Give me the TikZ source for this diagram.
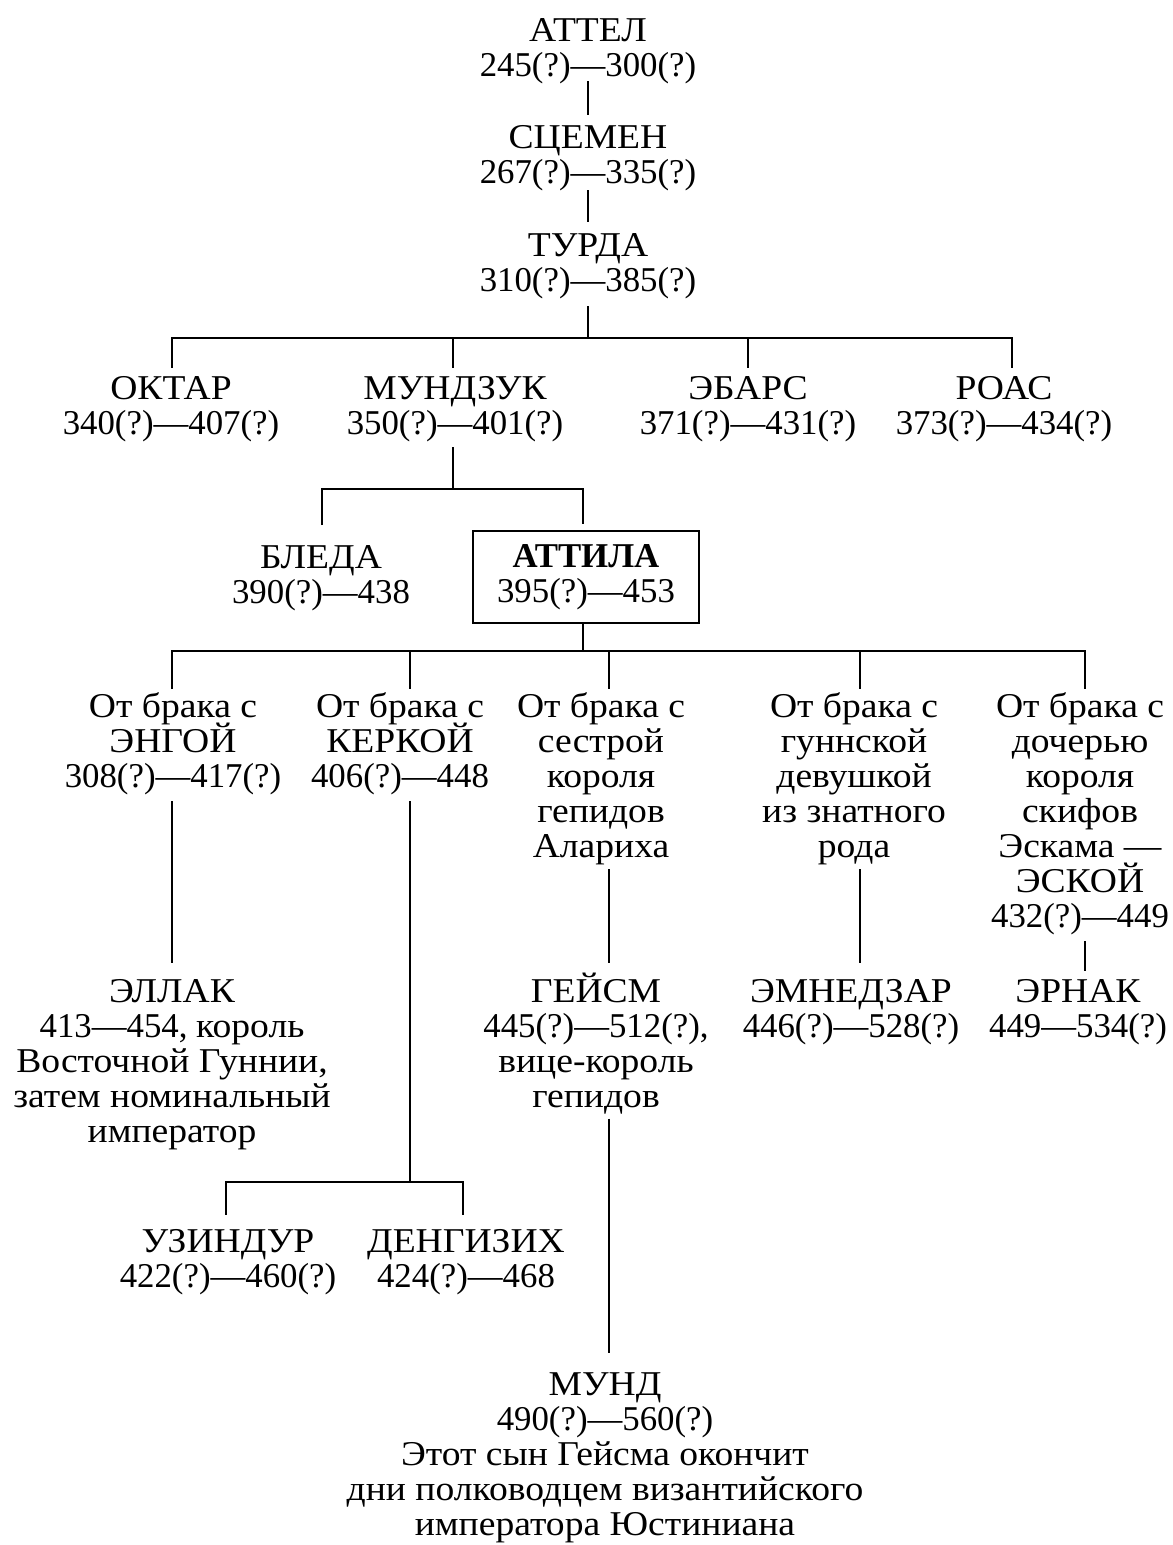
\documentclass[tikz,border=0pt]{standalone}
\usepackage{fontspec}
\setmainfont{Liberation Serif}
\newfontfamily\wfont{Liberation Serif}[FakeStretch=1.08]
\newcommand\wt[1]{{\wfont #1}}
\newcommand\nodefont{\fontsize{17.4}{17.5}\selectfont\lineskiplimit=-50pt\relax\lineskip=0pt\relax}
\begin{document}
\begin{tikzpicture}[x=0.5pt,y=-0.5pt]
\tikzset{
  person/.style={align=center, inner sep=0pt, outer sep=0pt, anchor=base, font=\nodefont},
  link/.style={line width=1.35pt, line join=miter},
  framed/.style={draw, line width=1.35pt, align=center, inner sep=0pt, outer sep=0pt,
    minimum width=113pt, minimum height=46pt, font=\nodefont}
}
\useasboundingbox (0,0) rectangle (1172,1545);

% ---- ancestors (anchor base = baseline of the last line)
\node[person] (attel)  at (588,77)  {\wt{АТТЕЛ}\\245(?)—300(?)};
\node[person] (scemen) at (588,184) {\wt{СЦЕМЕН}\\267(?)—335(?)};
\node[person] (turda)  at (588,292) {\wt{ТУРДА}\\310(?)—385(?)};

% ---- sons of Turda
\node[person] (oktar)   at (171,435)  {\wt{ОКТАР}\\340(?)—407(?)};
\node[person] (mundzuk) at (455,435)  {\wt{МУНДЗУК}\\350(?)—401(?)};
\node[person] (ebars)   at (748,435)  {\wt{ЭБАРС}\\371(?)—431(?)};
\node[person] (roas)    at (1004,435) {\wt{РОАС}\\373(?)—434(?)};

% ---- sons of Mundzuk
\node[person] (bleda) at (321,603) {\wt{БЛЕДА}\\390(?)—438};
\node[framed] (attila) at (586,577) {\textbf{АТТИЛА}\\395(?)—453};

% ---- marriages of Attila
\node[person] (c1) at (173,787)  {\wt{От брака с}\\\wt{ЭНГОЙ}\\308(?)—417(?)};
\node[person] (c2) at (400,787)  {\wt{От брака с}\\\wt{КЕРКОЙ}\\406(?)—448};
\node[person] (c3) at (601,857)  {\wt{От брака с}\\\wt{сестрой}\\\wt{короля}\\\wt{гепидов}\\\wt{Алариха}};
\node[person] (c4) at (854,857)  {\wt{От брака с}\\\wt{гуннской}\\\wt{девушкой}\\\wt{из знатного}\\\wt{рода}};
\node[person] (c5) at (1080,927) {\wt{От брака с}\\\wt{дочерью}\\\wt{короля}\\\wt{скифов}\\\wt{Эскама —}\\\wt{ЭСКОЙ}\\432(?)—449};

% ---- sons of Attila
\node[person] (ellak)    at (172,1142)  {\wt{ЭЛЛАК}\\413—454, \wt{король}\\\wt{Восточной Гуннии,}\\\wt{затем номинальный}\\\wt{император}};
\node[person] (geism)    at (596,1107)  {\wt{ГЕЙСМ}\\445(?)—512(?),\\\wt{вице-король}\\\wt{гепидов}};
\node[person] (emnedzar) at (851,1037)  {\wt{ЭМНЕДЗАР}\\446(?)—528(?)};
\node[person] (ernak)    at (1078,1037) {\wt{ЭРНАК}\\449—534(?)};
\node[person] (uzindur)  at (228,1287)  {\wt{УЗИНДУР}\\422(?)—460(?)};
\node[person] (dengizikh) at (466,1287) {\wt{ДЕНГИЗИХ}\\424(?)—468};
\node[person] (mund)     at (605,1535)  {\wt{МУНД}\\490(?)—560(?)\\\wt{Этот сын Гейсма окончит}\\\wt{дни полководцем византийского}\\\wt{императора Юстиниана}};

% ---- junction points
\coordinate (t1)  at (588,338);
\coordinate (t1L) at (172,338);
\coordinate (t1R) at (1012,338);
\coordinate (t1b) at (453,338);
\coordinate (t1c) at (748,338);

\coordinate (m1)  at (453,489);
\coordinate (m1L) at (322,489);
\coordinate (m1R) at (583,489);

\coordinate (a1)  at (583,651);
\coordinate (a1L) at (172,651);
\coordinate (a1R) at (1085,651);
\coordinate (a2)  at (410,651);
\coordinate (a3)  at (609,651);
\coordinate (a4)  at (860,651);

\coordinate (k1)  at (410,1182);
\coordinate (k1L) at (226,1182);
\coordinate (k1R) at (463,1182);

% ---- connectors
\draw[link, shorten <=-1.5pt, shorten >=5.5pt] (attel) -- (scemen);
\draw[link, shorten <=-0.5pt, shorten >=6pt] (scemen) -- (turda);
\draw[link, shorten <=3.5pt] (turda.south) -- (t1);
\draw[link, shorten <=4.5pt, shorten >=4.5pt] (oktar.north -| t1L) -- (t1L) -- (t1R) -- (roas.north -| t1R);
\draw[link, shorten >=4.5pt] (t1b) -- (mundzuk.north -| t1b);
\draw[link, shorten >=4.5pt] (t1c) -- (ebars.north -| t1c);

\draw[link, shorten <=2.5pt] (mundzuk.south -| m1) -- (m1);
\draw[link, shorten <=10pt, shorten >=3.5pt] (bleda.north -| m1L) -- (m1L) -- (m1R) -- (attila.north -| m1R);

\draw[link] (attila.south -| a1) -- (a1);
\draw[link, shorten <=1.5pt, shorten >=1.5pt] (c1.north -| a1L) -- (a1L) -- (a1R) -- (c5.north -| a1R);
\draw[link, shorten >=1.5pt] (a2) -- (c2.north -| a2);
\draw[link, shorten >=1.5pt] (a3) -- (c3.north -| a3);
\draw[link, shorten >=1.5pt] (a4) -- (c4.north -| a4);

\draw[link, shorten <=3.5pt, shorten >=8pt] (c1.south -| a1L) -- (ellak.north -| a1L);
\draw[link, shorten <=3.5pt] (c2.south -| k1) -- (k1);
\draw[link, shorten <=7pt, shorten >=7pt] (uzindur.north -| k1L) -- (k1L) -- (k1R) -- (dengizikh.north -| k1R);
\draw[link, shorten <=2.5pt, shorten >=5pt] (c3.south -| a3) -- (geism.north -| a3);
\draw[link, shorten <=2.5pt, shorten >=9.5pt] (geism.south -| a3) -- (mund.north -| a3);
\draw[link, shorten <=2.5pt, shorten >=8pt] (c4.south -| a4) -- (emnedzar.north -| a4);
\draw[link, shorten <=3.5pt, shorten >=4pt] (c5.south -| a1R) -- (ernak.north -| a1R);
\end{tikzpicture}
\end{document}
